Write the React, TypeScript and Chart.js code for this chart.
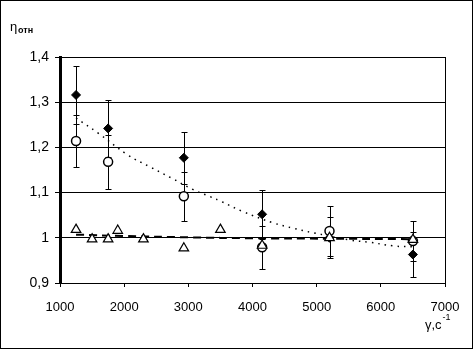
import { useEffect, useRef } from 'react';
import { Chart, registerables } from 'chart.js';
Chart.register(...registerables);

const groupX = [1250, 1750, 2930, 4150, 5200, 6500];
const solidY = [1.316, 1.242, 1.177, 1.052, 1.0, 0.963];
const solidErr = [0.065, 0.063, 0.058, 0.054, 0.045, 0.05];
const openY = [1.214, 1.168, 1.092, 0.979, 1.015, 0.993];
const openErr = [0.058, 0.059, 0.054, 0.047, 0.055, 0.044];
const triX = [1250, 1500, 1750, 1900, 2300, 2930, 3500, 4150, 5200, 6500];
const triY = [1.018, 0.997, 0.997, 1.016, 0.997, 0.977, 1.018, 0.983, 1.0, 0.996];
const dotTrendX = [1250, 1590, 2060, 2400, 2740, 3070, 3340, 3520, 3850, 4325, 4640, 4950, 5520, 5830, 6200, 6500];
const dotTrendY = [1.265, 1.232, 1.183, 1.157, 1.132, 1.107, 1.091, 1.08, 1.058, 1.033, 1.021, 1.011, 0.995, 0.99, 0.982, 0.98];
const dashTrendX = [1250, 2000, 3000, 4000, 5200, 6500];
const dashTrendY = [1.007, 1.004, 1.001, 0.999, 0.998, 0.997];
const xRange = [1000, 7000];
const yRange = [0.9, 1.4];
const yTitle = 'η';
const yTitleSub = 'отн';
const xTitle = 'γ,с';
const xTitleSup = '-1';

const FONT = '"Liberation Sans", Arial, sans-serif';

const pts = (xs: number[], ys: number[]) => xs.map((x, i) => ({ x, y: ys[i] }));

export default function App() {
  const ref = useRef<HTMLCanvasElement | null>(null);
  useEffect(() => {
    document.body.style.margin = '0';
    const canvas = ref.current!;
    const errMap: Record<number, number[]> = { 2: solidErr, 3: openErr };

    const extras = {
      id: 'extras',
      beforeDatasetsDraw(chart: any) {
        const { ctx, chartArea } = chart;
        const xs = chart.scales.x;
        const ys = chart.scales.y;
        ctx.save();
        ctx.beginPath();
        ctx.rect(chartArea.left, chartArea.top - 10, chartArea.right - chartArea.left, chartArea.bottom - chartArea.top + 10);
        ctx.clip();
        ctx.strokeStyle = '#000';
        ctx.lineWidth = 1;
        Object.keys(errMap).forEach((k) => {
          const di = Number(k);
          const ds = chart.data.datasets[di];
          const errs = errMap[di];
          ds.data.forEach((p: any, i: number) => {
            const px = Math.round(xs.getPixelForValue(p.x)) + 0.5;
            const yt = Math.round(ys.getPixelForValue(p.y + errs[i])) + 0.5;
            const yb = Math.round(ys.getPixelForValue(p.y - errs[i])) + 0.5;
            ctx.beginPath();
            ctx.moveTo(px, yt);
            ctx.lineTo(px, yb);
            ctx.moveTo(px - 3, yt);
            ctx.lineTo(px + 3, yt);
            ctx.moveTo(px - 3, yb);
            ctx.lineTo(px + 3, yb);
            ctx.stroke();
          });
        });
        ctx.restore();
      },
      afterDraw(chart: any) {
        const { ctx, width, height } = chart;
        ctx.save();
        ctx.strokeStyle = '#000';
        ctx.lineWidth = 1;
        ctx.strokeRect(0.5, 0.5, width - 1, height - 1);
        ctx.fillStyle = '#000';
        ctx.textBaseline = 'alphabetic';
        ctx.textAlign = 'left';
        ctx.font = `13px ${FONT}`;
        ctx.fillText(yTitle, 10, 31);
        ctx.font = `bold 9px ${FONT}`;
        ctx.fillText(yTitleSub, 18, 33);
        ctx.font = `13px ${FONT}`;
        const w = ctx.measureText(xTitle).width;
        const x0 = 425;
        ctx.fillText(xTitle, x0, 329);
        ctx.font = `9px ${FONT}`;
        ctx.fillText(xTitleSup, x0 + w + 1, 320);
        ctx.restore();
      },
    };

    const chart = new Chart(canvas, {
      type: 'scatter',
      data: {
        datasets: [
          {
            label: 'dotted trend',
            data: pts(dotTrendX, dotTrendY),
            showLine: true,
            borderColor: '#000',
            borderWidth: 1.5,
            borderDash: [1.5, 5],
            pointRadius: 0,
            tension: 0.4,
            order: 10,
          } as any,
          {
            label: 'dashed trend',
            data: pts(dashTrendX, dashTrendY),
            showLine: true,
            borderColor: '#000',
            borderWidth: 2,
            borderDash: [8, 5],
            pointRadius: 0,
            tension: 0.4,
            order: 9,
          },
          {
            label: 'solid',
            data: pts(groupX, solidY),
            pointStyle: 'rectRot',
            pointRadius: 4.5,
            backgroundColor: '#000',
            borderColor: '#000',
            borderWidth: 1,
            order: 1,
          },
          {
            label: 'open',
            data: pts(groupX, openY),
            pointStyle: 'circle',
            pointRadius: 4.5,
            backgroundColor: '#fff',
            borderColor: '#000',
            borderWidth: 1.5,
            order: 2,
          },
          {
            label: 'triangles',
            data: pts(triX, triY),
            pointStyle: 'triangle',
            pointRadius: 5.5,
            backgroundColor: '#fff',
            borderColor: '#000',
            borderWidth: 1.2,
            order: 0,
          },
        ],
      },
      options: {
        animation: false,
        responsive: false,
        layout: { padding: { left: 0, right: 28, top: 57, bottom: 0 } },
        plugins: { legend: { display: false }, tooltip: { enabled: false } },
        scales: {
          x: {
            type: 'linear',
            min: xRange[0],
            max: xRange[1],
            afterFit: (s: any) => { s.height = 66; },
            ticks: {
              stepSize: 1000,
              color: '#000',
              font: { family: FONT, size: 13 },
              padding: 13,
              maxRotation: 0,
              callback: (v: any) => String(v),
            },
            grid: {
              color: (c: any) => (c.tick && c.tick.value === xRange[1] ? '#000' : 'rgba(0,0,0,0)'),
              tickColor: '#000',
              tickLength: 4,
              lineWidth: 1,
            },
            border: { display: true, color: '#000', width: 1 },
          },
          y: {
            type: 'linear',
            min: yRange[0],
            max: yRange[1],
            afterFit: (s: any) => { s.width = 60; },
            ticks: {
              stepSize: 0.1,
              color: '#000',
              font: { family: FONT, size: 14 },
              padding: 6,
              callback: (v: any) => String(Math.round(Number(v) * 10) / 10).replace('.', ','),
            },
            grid: { color: '#000', tickColor: '#000', tickLength: 5, lineWidth: 1 },
            border: { display: true, color: '#000', width: 3 },
          },
        },
      },
      plugins: [extras],
    } as any);
    return () => chart.destroy();
  }, []);
  return <canvas ref={ref} width={473} height={349} style={{ display: 'block' }} />;
}
